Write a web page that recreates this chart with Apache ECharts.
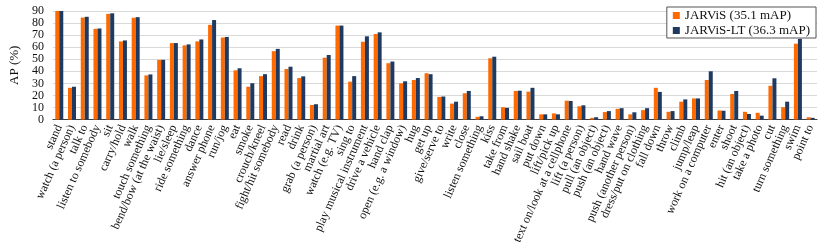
<!DOCTYPE html>
<html><head><meta charset="utf-8">
<script src="https://cdn.jsdelivr.net/npm/echarts@6/dist/echarts.min.js"></script>
<style>html,body{margin:0;padding:0;background:#fff}#c{width:822px;height:247px}</style>
</head><body><div id="c"></div>
<script>
const categories = ["stand","watch (a person)","talk to","listen to somebody","sit","carry/hold","walk","touch something","bend/bow (at the waist)","lie/sleep","ride something","dance","answer phone","run/jog","eat","smoke","crouch/kneel","fight/hit somebody","read","drink","grab (a person)","martial art","watch (e.g. TV)","sing to","play musical instrument","drive a vehicle","hand clap","open (e.g. a window)","hug","get up","give/serve to","write","close","listen something","kiss","take from","hand shake","sail boat","put down","lift/pick up","text on/look at a cellphone","lift (a person)","pull (an object)","push (an object)","hand wave","push (another person)","dress/put on clothing","fall down","throw","climb","jump/leap","work on a computer","enter","shoot","hit (an object)","take a photo","cut","turn something","swim","point to"];
const jarvis = [90,26.3,84.6,75.2,87.6,64.8,84.4,36.6,49.5,63.4,61.5,64.8,78.5,68,40.8,27.2,36,56.7,41.9,34.4,12.1,51.3,77.9,31.4,64.5,70.9,46.7,30.1,32.8,38.4,18.8,13.2,21.8,2.2,50.8,10.2,23.7,23.1,4.3,5.1,15.6,11,1.4,6.2,8.9,4.3,7.8,26.3,6.4,14.8,17.5,32.8,7.5,21.2,6.4,5.6,28,10.2,62.9,1.9];
const jarvisLT = [90,27.2,85.2,75.5,88.1,65.6,84.9,37.4,49.5,63.4,62.3,66.4,82.5,68.5,42.5,30.1,37.6,58.6,43.8,35.8,12.7,53.5,77.9,36,69,72.3,48.1,31.7,34.4,37.6,19.1,14.8,23.7,2.7,52.1,9.7,23.9,26.3,4.3,4.3,15.4,11.8,1.9,7,9.4,6,9.4,22.9,7,16.7,17.5,40,7.3,23.7,4.6,3.2,34.2,14.8,66.9,1.4];
const yTicks = [0,10,20,30,40,50,60,70,80,90];
const seriesNames = ["JARViS (35.1 mAP)","JARViS-LT (36.3 mAP)"];

const font = "Liberation Serif";
const chart = echarts.init(document.getElementById('c'), null, {renderer:'canvas'});
chart.setOption({
  animation:false,
  textStyle:{fontFamily:font},
  grid:{left:43,right:5,top:11,bottom:124},
  legend:{
    orient:'vertical', right:6, top:7,
    data:seriesNames,
    icon:'rect', itemWidth:7, itemHeight:7, itemGap:2,
    padding:[2,6,1,6],
    borderColor:'#555', borderWidth:1, backgroundColor:'#fff',
    textStyle:{fontFamily:font,fontSize:13,color:'#111'}
  },
  xAxis:{
    type:'category', data:categories,
    axisLine:{lineStyle:{color:'#404040',width:1}},
    axisTick:{show:false},
    axisLabel:{interval:0, rotate:66, fontFamily:font, fontSize:12, color:'#111', margin:6}
  },
  yAxis:{
    type:'value', min:yTicks[0], max:yTicks[yTicks.length-1], interval:10,
    name:'AP (%)', nameLocation:'middle', nameGap:27, nameRotate:90,
    nameTextStyle:{fontFamily:font,fontSize:13,color:'#111'},
    axisLine:{show:false}, axisTick:{show:false},
    axisLabel:{fontFamily:font,fontSize:12,color:'#111',margin:9,showMinLabel:true,showMaxLabel:true,hideOverlap:false},
    splitLine:{lineStyle:{color:'#d9d9d9',width:1}}
  },
  series:[
    {name:seriesNames[0],type:'bar',data:jarvis,barWidth:4,barGap:'0%',itemStyle:{color:'#FF6A00'}},
    {name:seriesNames[1],type:'bar',data:jarvisLT,barWidth:4,barGap:'0%',itemStyle:{color:'#1F3A60'}}
  ]
});
</script></body></html>
